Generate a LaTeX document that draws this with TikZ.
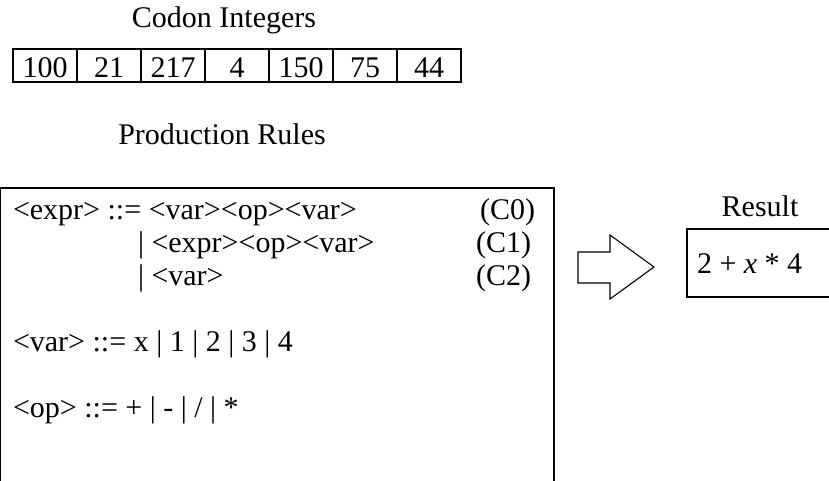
\documentclass[tikz,border=0pt]{standalone}
\usepackage{fontspec}
\setmainfont{Liberation Serif}
\begin{document}
\begin{tikzpicture}[x=1pt,y=-1pt,
  every node/.style={inner sep=0pt, outer sep=0pt, font=\fontsize{30}{36}\selectfont},
  cell/.style={draw, line width=1.3pt, minimum width=64pt, minimum height=33pt, anchor=north west},
  rule/.style={anchor=base west},
  tag/.style={anchor=base east},
  frame/.style={draw, line width=1.3pt}]
\useasboundingbox (0,0) rectangle (829,480);

% codon integers
\node[anchor=base] (codontitle) at (224,27) {Codon Integers};
\foreach \v [count=\i from 0] in {100,21,217,4,150,75,44}
  \node[cell] (c\i) at (13+64*\i,49) {};
\foreach \v [count=\i from 0] in {100,21,217,4,150,75,44}
  \node[anchor=base] (n\i) at (45+64*\i,77) {\v};

% production rules
\node[anchor=base] (prodtitle) at (222,144) {Production Rules};
\draw[frame] (0.7,500) -- (0.7,188) -- (554,188) -- (554,500);
\node[rule] (r0) at (13,219) {<expr> ::= <var><op><var>};
\node[rule] (r1) at (138,252) {| <expr><op><var>};
\node[rule] (r2) at (138,285) {| <var>};
\node[tag] (t0) at (535,219) {(C0)};
\node[tag] (t1) at (531,252) {(C1)};
\node[tag] (t2) at (531,285) {(C2)};
\node[rule] (r3) at (13,351) {<var> ::= x | 1 | 2 | 3 | 4};
\node[rule] (r4) at (13,417) {<op> ::= + | - | / | *};

% block arrow
\draw[line width=1.1pt, line join=miter] (578,252) -- (610,252) -- (610,235) -- (654,267)
  -- (610,299) -- (610,283) -- (578,283) -- cycle;

% result
\node[anchor=base] (restitle) at (760,216) {Result};
\draw[frame] (840,229) -- (687,229) -- (687,297) -- (840,297);
\node[rule] (res) at (697,273) {2 + \textit{x} * 4};
\end{tikzpicture}
\end{document}
